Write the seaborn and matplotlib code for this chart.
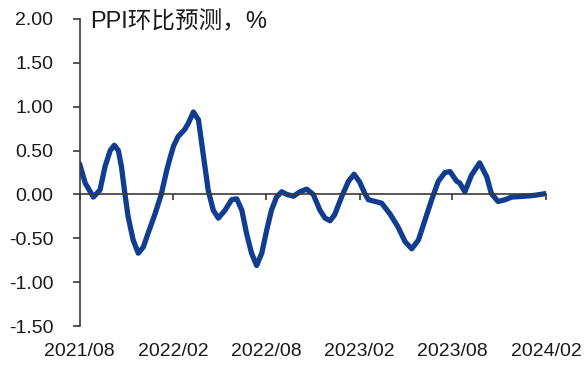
import matplotlib
matplotlib.use("Agg")
import matplotlib.pyplot as plt
import matplotlib.dates as mdates
import pandas as pd
import seaborn as sns

# PPI month-on-month forecast, %
dates = [
    "2021-08-01", "2021-08-12", "2021-08-28", "2021-09-10", "2021-09-20",
    "2021-09-30", "2021-10-08", "2021-10-16", "2021-10-22", "2021-10-29",
    "2021-11-04", "2021-11-14", "2021-11-24", "2021-12-04", "2021-12-14",
    "2021-12-27", "2022-01-08", "2022-01-19", "2022-01-25", "2022-02-01",
    "2022-02-10", "2022-02-23", "2022-03-02", "2022-03-12", "2022-03-22",
    "2022-03-31", "2022-04-10", "2022-04-20", "2022-04-30", "2022-05-13",
    "2022-05-26", "2022-06-05", "2022-06-15", "2022-06-24", "2022-07-04",
    "2022-07-14", "2022-07-24", "2022-08-03", "2022-08-12", "2022-08-22",
    "2022-09-01", "2022-09-11", "2022-09-24", "2022-10-07", "2022-10-20",
    "2022-11-02", "2022-11-15", "2022-11-25", "2022-12-05", "2022-12-14",
    "2022-12-28", "2023-01-10", "2023-01-21", "2023-02-01", "2023-02-11",
    "2023-02-18", "2023-03-03", "2023-03-16", "2023-04-01", "2023-04-17",
    "2023-05-01", "2023-05-14", "2023-05-27", "2023-06-09", "2023-06-22",
    "2023-07-05", "2023-07-18", "2023-07-28", "2023-08-10", "2023-08-16",
    "2023-08-26", "2023-09-08", "2023-09-24", "2023-10-08", "2023-10-17",
    "2023-10-30", "2023-11-13", "2023-11-26", "2023-12-22", "2024-01-10",
    "2024-02-01",
]
values = [
    0.35, 0.13, -0.03, 0.05, 0.32,
    0.50, 0.56, 0.50, 0.32, 0.00,
    -0.25, -0.52, -0.67, -0.60, -0.43,
    -0.22, 0.00, 0.28, 0.41, 0.55,
    0.66, 0.74, 0.81, 0.94, 0.85,
    0.47, 0.05, -0.18, -0.27, -0.18,
    -0.06, -0.05, -0.18, -0.44, -0.67,
    -0.81, -0.67, -0.40, -0.18, -0.03,
    0.03, 0.00, -0.02, 0.03, 0.06,
    0.00, -0.18, -0.27, -0.30, -0.23,
    -0.02, 0.15, 0.23, 0.14, 0.01,
    -0.06, -0.08, -0.10, -0.22, -0.37,
    -0.54, -0.62, -0.52, -0.29, -0.06,
    0.15, 0.25, 0.26, 0.15, 0.13,
    0.03, 0.22, 0.36, 0.20, 0.01,
    -0.08, -0.06, -0.03, -0.02, -0.01,
    0.01,
]

tick_dates = ["2021-08-01", "2022-02-01", "2022-08-01",
              "2023-02-01", "2023-08-01", "2024-02-01"]
tick_labels = ["2021/08", "2022/02", "2022/08",
               "2023/02", "2023/08", "2024/02"]
y_ticks = [-1.5, -1.0, -0.5, 0.0, 0.5, 1.0, 1.5, 2.0]
title = "PPI环比预测，%"

sns.set_theme(style="white")
plt.rcParams["font.family"] = ["Liberation Sans", "Noto Sans CJK SC", "DejaVu Sans"]
plt.rcParams["axes.unicode_minus"] = False

df = pd.DataFrame({"date": pd.to_datetime(dates), "value": values})

axis_color = "#3a3a3a"
text_color = "#1a1a1a"
line_color = "#103D90"

fig = plt.figure(figsize=(5.86, 3.65), dpi=100)
ax = fig.add_axes([0.1358, 0.1068, 0.7959, 0.8412])

sns.lineplot(data=df, x="date", y="value", ax=ax, color=line_color,
             linewidth=3.8)
for ln in ax.lines:
    ln.set_solid_joinstyle("round")
    ln.set_solid_capstyle("round")

xt = mdates.date2num(pd.to_datetime(tick_dates))
ax.set_xlim(xt[0], xt[-1])
ax.set_ylim(-1.5, 2.0)
ax.set_yticks(y_ticks)
ax.set_yticklabels([f"{v:.2f}" for v in y_ticks])
ax.set_xlabel("")
ax.set_ylabel("")

for side in ("top", "right"):
    ax.spines[side].set_visible(False)
ax.spines["bottom"].set_position(("data", 0))
for side in ("bottom", "left"):
    ax.spines[side].set_color(axis_color)
    ax.spines[side].set_linewidth(1.2)

# x ticks sit on the zero line; their labels go along the bottom edge
ax.set_xticks(xt)
ax.tick_params(axis="x", bottom=True, direction="out", length=4, width=1.2,
               color=axis_color, labelbottom=False)
ax.tick_params(axis="y", left=True, direction="out", length=5, width=1.2,
               color=axis_color, pad=14, labelsize=14, labelcolor=text_color)

sec = ax.secondary_xaxis(0)
sec.set_xticks(xt)
sec.set_xticklabels(tick_labels)
sec.tick_params(axis="x", length=0, pad=12, labelsize=14, labelcolor=text_color)
sec.spines["bottom"].set_visible(False)

ax.text(0.022, 0.99, title, transform=ax.transAxes, ha="left", va="center",
        fontsize=17, color=text_color)

fig.savefig("out.png", dpi=100)
